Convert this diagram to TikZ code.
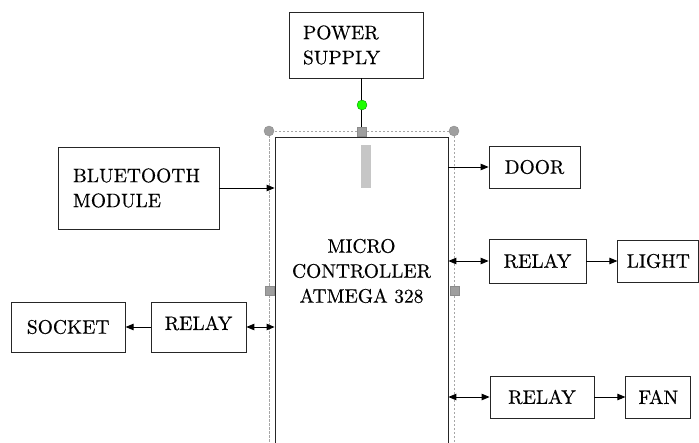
\documentclass[tikz,border=0pt]{standalone}
\usepackage{fontspec}
\newfontfamily\boxfont{lmroman10-regular.otf}[FakeBold=0.4]
\usepackage{tikz}
\usetikzlibrary{arrows.meta, positioning}

\begin{document}
\begin{tikzpicture}[
  x=1pt, y=-1pt,
  box/.style={rectangle, draw=black!85, line width=0.8pt, inner sep=0pt, align=center, font=\boxfont\fontsize{19.5}{25}\selectfont},
  textbox/.style={box, align=left, inner xsep=14pt},
  arrow/.style={-{Triangle[length=8pt,width=6.5pt]}, line width=0.9pt},
  twoway/.style={{Triangle[length=8pt,width=6.5pt]}-{Triangle[length=8pt,width=6.5pt]}, line width=0.9pt},
  handle/.style={fill=gray!75, draw=gray!90, line width=0.4pt},
  frame/.style={draw=gray!70, line width=0.6pt, dash pattern=on 2.5pt off 1.5pt}
]
\clip (0,0) rectangle (699,442);

% selection frame behind the controller
\draw[frame] (269,131) rectangle (454,460);

\node[box, minimum width=173pt, minimum height=313pt] (micro) at (361.5,293.5) {};
\node[font=\boxfont\fontsize{19.5}{25}\selectfont, align=center] (microtxt) at (361.5,271) {MICRO\\CONTROLLER\\ATMEGA 328};

\node[textbox, text width=106pt, minimum height=66pt] (power) at (356,45) {POWER\\SUPPLY};
\node[textbox, text width=131pt, inner xsep=15pt, minimum height=82pt] (bt) at (138.5,188) {BLUETOOTH\\MODULE\\[4pt]};

\node[box, minimum width=91pt, minimum height=42pt] (door) at (534.5,167) {DOOR};
\node[box, minimum width=97pt, minimum height=44pt] (relayl) at (537.5,261) {RELAY};
\node[box, minimum width=81pt, minimum height=42pt, right=31pt of relayl] (light) {LIGHT};
\node[box, minimum width=104pt, minimum height=42pt] (relayf) at (542,397) {RELAY};
\node[box, minimum width=65pt, minimum height=42pt, right=31pt of relayf] (fan) {FAN};
\node[box, minimum width=95pt, minimum height=50pt] (relays) at (198.5,327) {\raisebox{8pt}{RELAY}};
\node[box, minimum width=114pt, minimum height=50pt, left=25pt of relays] (socket) {SOCKET};

\fill[gray!45] (361,145) rectangle (371,188);

\draw[arrow] (micro.north |- power.south) -- (micro.north);
\draw[arrow] (bt.east) -- (bt.east -| micro.west);
\draw[arrow] (micro.east |- door.west) -- (door.west);
\draw[twoway] (micro.east |- relayl.west) -- (relayl.west);
\draw[arrow] (relayl.east) -- (light.west);
\draw[twoway] (micro.east |- relayf.west) -- (relayf.west);
\draw[arrow] (relayf.east) -- (fan.west);
\draw[twoway] (relays.east) -- (relays.east -| micro.west);
\draw[arrow] (relays.west) -- (socket.east);

% editor handles
\filldraw[fill=green!85!lime, draw=green!50!black, line width=0.3pt] (362,105) circle (5pt);
\filldraw[handle] (269,131) circle (5pt);
\filldraw[handle] (454,131) circle (5pt);
\filldraw[handle] (357,127) rectangle (366,136);
\filldraw[handle] (265,286) rectangle (274,295);
\filldraw[handle] (450,286) rectangle (459,295);
\end{tikzpicture}
\end{document}
